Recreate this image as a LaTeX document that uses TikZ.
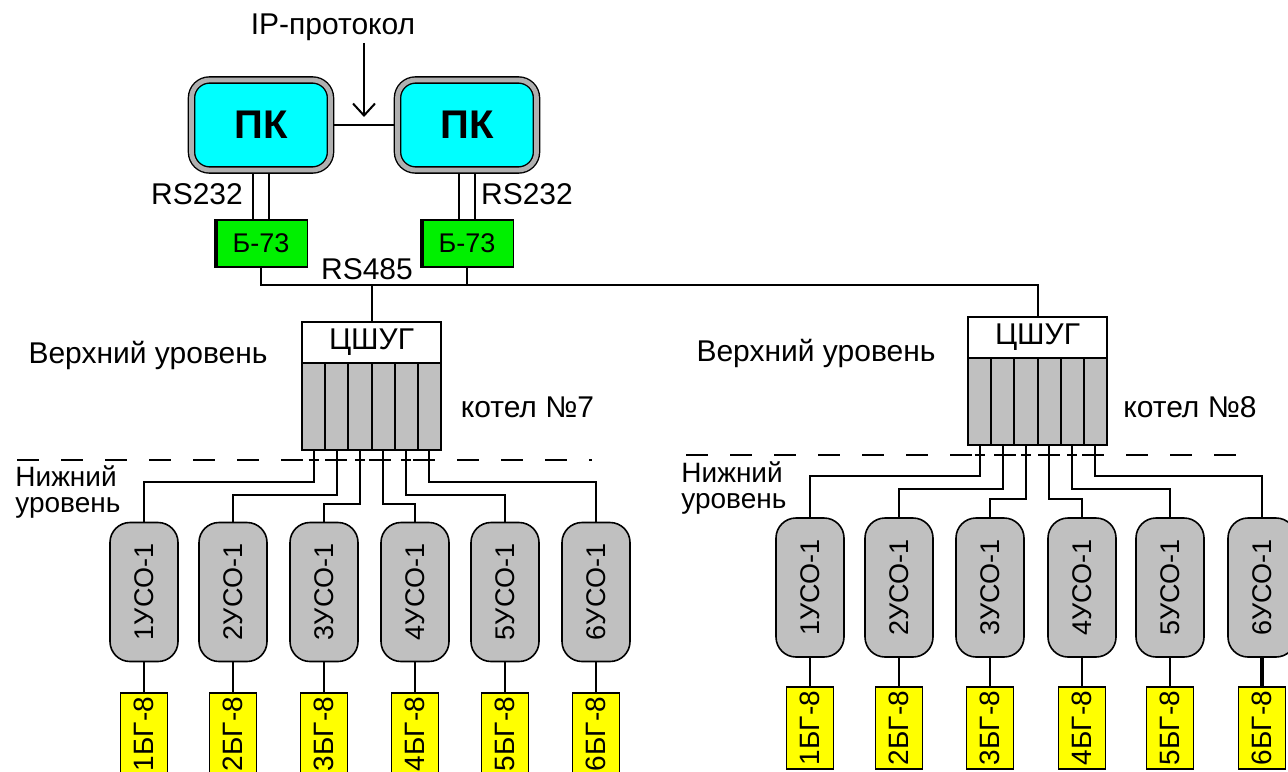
\documentclass[tikz,border=0pt]{standalone}
\usepackage{fontspec}
\setmainfont{Liberation Sans}
\usetikzlibrary{arrows.meta,calc,backgrounds}
\definecolor{pccyan}{RGB}{0,255,255}
\definecolor{bgreen}{RGB}{0,240,0}
\definecolor{silv}{RGB}{192,192,192}
\definecolor{band}{RGB}{176,176,176}
\definecolor{yel}{RGB}{255,255,0}
\begin{document}
\begin{tikzpicture}[x=0.5pt,y=-0.5pt,
  conn/.style={line width=1pt},
  lbl/.style={inner sep=1pt,font=\fontsize{15}{18}\selectfont},
  pcbox/.style={draw=black,line width=0.7pt,double=band,double distance=2.4pt,
     fill=pccyan,rounded corners=9pt,minimum width=69.5pt,minimum height=45pt,
     font=\fontsize{20}{24}\selectfont\bfseries},
  btbox/.style={draw,line width=0.8pt,fill=bgreen,minimum width=46.5pt,minimum height=23.5pt,
     outer sep=0pt,font=\fontsize{13.5}{16}\selectfont},
  ctop/.style={draw,line width=1pt,fill=white,minimum width=69.5pt,minimum height=20.5pt,
     outer sep=0pt,font=\fontsize{15}{18}\selectfont},
  cbot/.style={draw,line width=1pt,fill=silv,minimum width=69.5pt,minimum height=43.5pt,
     outer sep=0pt,inner sep=0pt},
  usobox/.style={draw,line width=0.8pt,fill=silv,rounded corners=10pt,minimum width=34pt,
     minimum height=69.5pt,outer sep=0pt,inner sep=0pt,font=\fontsize{13.5}{16}\selectfont},
  yelbox/.style={draw,line width=0.8pt,fill=yel,minimum width=23.5pt,anchor=north,
     inner xsep=0pt,inner ysep=2pt,outer sep=0pt,font=\fontsize{14}{16}\selectfont},
  lvl/.style={dash pattern=on 11pt off 11pt,line width=0.9pt},
  lowlbl/.style={inner sep=0pt,anchor=west,align=left,font=\fontsize{14}{13}\selectfont}
]
\clip (0,0) rectangle (1288,771);
\begin{scope}[on background layer]
  \fill[white] (0,0) rectangle (1288,771);
\end{scope}

% top computers
\node[pcbox] (pcL) at (261,125) {ПК};
\node[pcbox] (pcR) at (467,125) {ПК};
\node[lbl] (ip) at (333,27) {IP-протокол};
\coordinate (ipTip) at (364,117);

% B-73 converters
\node[btbox] (bL) at (261,243.5) {Б-73};
\node[btbox] (bR) at (467,243.5) {Б-73};
\draw[line width=2pt] ([xshift=0.6pt]bL.south west) -- ([xshift=0.6pt]bL.north west);
\draw[line width=2pt] ([xshift=0.6pt]bR.south west) -- ([xshift=0.6pt]bR.north west);

\node[lbl] (rsL) at (197,194) {RS232};
\node[lbl] (rsR) at (527,194) {RS232};
\node[lbl] (rs485) at (367,269) {RS485};

% CShUG boxes
\node[ctop] (cL) at (371.5,342.5) {ЦШУГ};
\node[cbot] (cLb) at (371.5,406.5) {};
\node[ctop] (cR) at (1037.5,337) {ЦШУГ};
\node[cbot] (cRb) at (1037.5,401.5) {};
\foreach \k in {1,...,5}{
  \draw[conn] ($(cLb.south west)!\k/6!(cLb.south east)$) -- ($(cLb.north west)!\k/6!(cLb.north east)$);
  \draw[conn] ($(cRb.south west)!\k/6!(cRb.south east)$) -- ($(cRb.north west)!\k/6!(cRb.north east)$);
}

\node[lbl] (upL) at (148,355) {Верхний уровень};
\node[lbl] (upR) at (816,353) {Верхний уровень};
\node[lbl] (kL) at (527.5,407) {котел №7};
\node[lbl] (kR) at (1190,407) {котел №8};
\node[lowlbl] (loL) at (15,492) {Нижний\\уровень};
\node[lowlbl] (loR) at (681,488) {Нижний\\уровень};

% level dashed lines
\draw[lvl] (17,460) -- (592,460);
\draw[lvl] (686,455) -- (1257,455);

% USO and BG-8 units
\foreach \i/\x in {1/144,2/233,3/324,4/415,5/505,6/596}{
  \node[usobox] (uL\i) at (\x,592) {\rotatebox{90}{{\i}УСО-1}};
  \node[yelbox] (yL\i) at (\x,693) {\rotatebox{90}{{\i}БГ-8}};
}
\foreach \i/\x in {1/810,2/899,3/990,4/1082,5/1170,6/1262}{
  \node[usobox] (uR\i) at (\x,587.5) {\rotatebox{90}{{\i}УСО-1}};
  \node[yelbox] (yR\i) at (\x,687) {\rotatebox{90}{{\i}БГ-8}};
}

\begin{scope}[on background layer]
  \draw[conn] (pcL.east) -- (pcR.west);
  \draw[conn] ([xshift=-4pt]pcL.south) -- ([xshift=-4pt]bL.north);
  \draw[conn] ([xshift=4pt]pcL.south) -- ([xshift=4pt]bL.north);
  \draw[conn] ([xshift=-4pt]pcR.south) -- ([xshift=-4pt]bR.north);
  \draw[conn] ([xshift=4pt]pcR.south) -- ([xshift=4pt]bR.north);
\end{scope}
\draw[conn,-{Straight Barb[length=6pt,width=11pt,line width=1pt]}] (ip.south -| ipTip) -- (ipTip);

% RS485 bus
\draw[conn] (bL.south) -- ++(0,18) -| (cR.north);
\draw[conn] (bR.south) -- ++(0,18);
\draw[conn] (cL.north) -- ++(0,-37);

% lower-level links
\foreach \i/\f/\d in {1/0.0833/32,2/0.25/45,3/0.4167/54,4/0.5833/54,5/0.75/45,6/0.9167/32}{
  \draw[conn] ($(cLb.south west)!\f!(cLb.south east)$) coordinate (pL\i) -- ++(0,\d) -| (uL\i.north);
  \draw[conn] ([xshift=-2.5pt]pL\i |- 0,460) -- ([xshift=2.5pt]pL\i |- 0,460);
  \draw[conn] (uL\i.south) -- (yL\i.north);
}
\foreach \i/\f/\d in {1/0.0833/31,2/0.25/44,3/0.4167/54,4/0.5833/54,5/0.75/44,6/0.9167/31}{
  \draw[conn] ($(cRb.south west)!\f!(cRb.south east)$) coordinate (pR\i) -- ++(0,\d) -| (uR\i.north);
  \draw[conn] ([xshift=-2.5pt]pR\i |- 0,455) -- ([xshift=2.5pt]pR\i |- 0,455);
}
\foreach \i in {1,...,5}{\draw[conn] (uR\i.south) -- (yR\i.north);}
\draw[line width=2pt] (uR6.south) -- (yR6.north);
\end{tikzpicture}
\end{document}
